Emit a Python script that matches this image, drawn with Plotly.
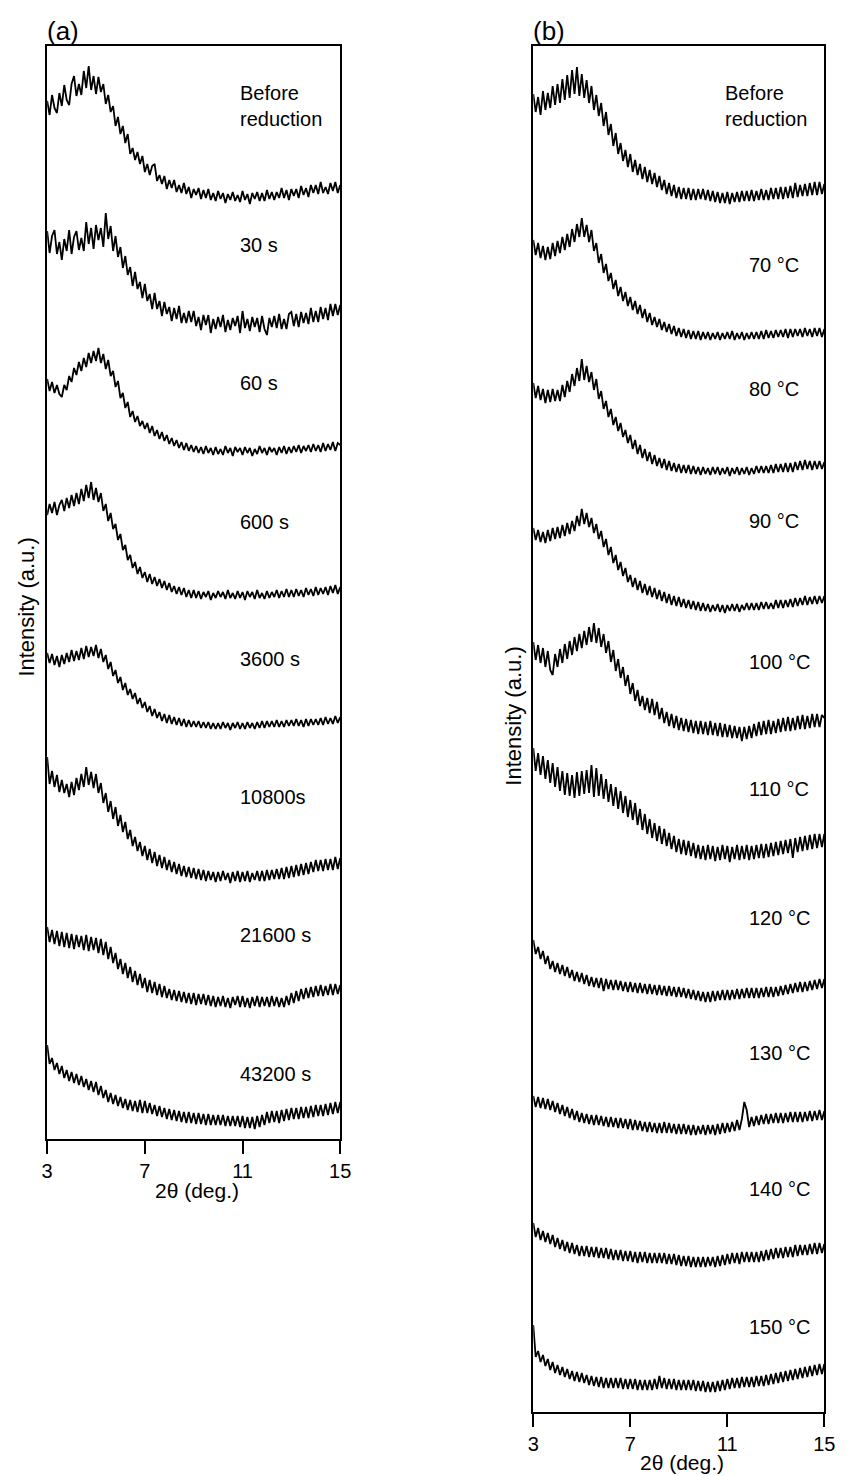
import numpy as np
import plotly.graph_objects as go

# 2-theta grid (deg.), 0.1 deg sampling
theta = np.round(np.arange(3.0, 15.0001, 0.1), 1)

# ---- Panel (a): reduction time series (intensity, a.u., relative to each trace's baseline)
labels_a = ["Before<br>reduction", "30 s", "60 s", "600 s", "3600 s", "10800s", "21600 s", "43200 s"]
offsets_a = [942, 815, 688, 544, 413, 262, 137, 17]
label_y_a = [1033, 894, 756, 617, 480, 342, 204, 65]

a_before = [96,82,102,89,84,104,91,112,97,92,
            113,121,101,113,102,126,109,131,107,121,
            103,120,105,113,93,102,85,91,71,80,
            63,71,54,63,43,49,37,45,33,41,
            25,33,22,31,33,16,22,13,21,8,
            17,9,17,5,12,4,14,3,10,-1,
            8,2,9,-2,7,-1,8,-3,4,-4,
            6,-2,4,-6,3,-3,5,-4,2,-5,
            6,-3,3,-7,4,-2,5,-4,4,-4,
            7,-2,5,-3,5,-1,9,-1,7,-3,
            8,1,8,-1,11,2,9,0,12,4,
            12,3,15,4,10,3,14,6,15,4,
            12]
a_30 = [93,71,88,94,70,82,64,85,73,94,
        70,87,93,74,86,73,102,80,96,75,
        99,84,96,77,111,85,98,73,88,67,
        77,56,68,49,57,38,52,35,42,26,
        40,23,30,15,31,15,23,8,22,10,
        17,3,16,5,18,1,11,1,13,2,
        13,-2,7,-6,9,-1,9,-9,5,-5,
        7,-3,9,-8,4,-6,6,-2,8,-9,
        13,-4,5,-7,7,-3,6,-8,8,-5,
        -11,6,-3,8,-4,10,-5,5,-5,10,
        12,-2,10,-3,12,1,11,0,16,2,
        13,2,17,5,16,4,20,8,20,9,
        19]
a_60 = [72,60,69,58,66,57,54,66,61,75,
        69,83,76,89,80,93,84,98,88,100,
        90,103,88,97,82,91,75,80,64,70,
        53,58,43,49,34,40,29,35,25,30,
        22,28,18,25,15,21,12,19,10,16,
        7,13,5,11,3,9,1,8,0,6,
        -1,5,-2,4,-3,5,-2,3,-4,4,
        -3,2,-4,5,-2,3,-5,4,-1,3,
        -4,4,-2,3,-5,2,-3,5,-2,3,
        -4,4,-1,3,-4,4,-2,5,-3,4,
        -2,5,-1,6,-2,5,0,6,-1,7,
        0,6,-1,8,0,7,1,9,0,8,
        6]
a_600 = [80,91,82,93,80,90,95,84,97,87,
         100,89,102,91,106,94,110,97,113,95,
         107,93,102,84,91,74,82,66,71,55,
         61,45,50,35,40,27,33,21,28,17,
         23,13,21,11,18,9,16,7,14,5,
         12,3,9,1,8,0,7,-2,5,-3,
         5,-3,4,-4,3,-2,4,-5,2,-3,
         4,-2,3,-4,5,-3,2,-4,4,-3,
         3,-5,4,-2,3,-4,5,-3,2,-4,
         4,-3,3,-2,5,-3,4,-2,6,-2,
         5,-2,6,-1,5,-2,7,0,6,-1,
         8,0,7,1,8,0,9,2,10,1,
         8]
a_3600 = [73,63,72,61,70,59,71,62,73,64,
          76,65,75,66,78,67,80,69,79,70,
          81,68,77,64,71,57,64,50,56,43,
          49,36,43,31,37,27,33,22,28,18,
          24,14,20,10,17,8,14,5,12,3,
          11,2,9,1,8,0,7,-1,6,-1,
          5,-1,5,-2,4,-2,4,-3,3,-3,
          3,-3,4,-2,3,-4,3,-2,4,-3,
          3,-3,4,-2,3,-3,4,-2,5,-2,
          5,-1,5,-1,6,-1,5,-1,6,0,
          6,0,7,0,6,-1,7,0,7,1,
          7,1,8,1,9,2,8,2,10,3,
          9]
a_10800 = [120,93,106,90,102,85,97,84,93,80,
           95,82,99,87,103,90,110,92,105,89,
           103,84,94,74,84,65,76,58,70,51,
           62,45,55,38,47,31,40,26,35,21,
           31,17,28,14,25,11,22,9,20,7,
           17,5,15,3,13,1,11,0,10,-1,
           9,-2,8,-3,7,-4,6,-3,5,-5,
           5,-4,6,-3,4,-6,5,-4,6,-5,
           5,-4,6,-5,4,-3,6,-4,6,-4,
           7,-3,7,-2,8,-2,9,-2,10,-1,
           11,0,12,1,13,2,14,3,15,5,
           17,6,17,6,18,7,18,7,20,8,
           19]
a_21600 = [75,60,72,58,71,56,70,55,69,54,
           68,53,67,55,66,52,67,51,65,52,
           64,49,63,47,60,43,55,39,49,33,
           43,28,39,24,35,20,31,17,28,14,
           24,10,22,9,20,7,18,5,16,4,
           13,2,12,1,11,0,10,-1,9,-2,
           9,-3,8,-2,8,-3,7,-4,6,-5,
           5,-4,6,-5,4,-6,5,-3,6,-5,
           6,-5,4,-6,5,-4,6,-5,5,-4,
           5,-5,6,-4,5,-5,4,-5,6,-3,
           9,-1,11,1,13,3,14,4,15,5,
           16,6,17,6,16,7,18,7,18,8,
           17]
a_43200 = [77,58,64,52,59,48,56,44,52,41,
           50,39,48,37,46,35,43,32,41,30,
           40,27,36,24,32,20,29,18,27,16,
           25,14,23,12,22,11,21,10,22,9,
           21,9,19,8,17,6,16,5,14,3,
           13,2,12,1,11,0,10,-1,10,-1,
           9,-2,9,-2,8,-3,8,-3,7,-3,
           7,-3,7,-4,6,-4,6,-4,6,-5,
           6,-6,5,-6,5,-7,6,-5,7,-3,
           10,-1,11,0,11,-1,12,1,13,2,
           14,3,14,3,15,4,15,4,16,5,
           17,6,17,6,18,7,19,8,20,9,
           20]
series_a = [a_before, a_30, a_60, a_600, a_3600, a_10800, a_21600, a_43200]

# ---- Panel (b): reduction temperature series
labels_b = ["Before<br>reduction", "70 °C", "80 °C", "90 °C", "100 °C", "110 °C",
            "120 °C", "130 °C", "140 °C", "150 °C"]
offsets_b = [1214, 1076, 941, 804, 679, 559, 415, 282, 150, 25]
label_y_b = [1306, 1147, 1023, 891, 750, 623, 494, 359, 223, 85]

b_before = [104,86,101,83,107,88,105,90,112,93,
            114,95,119,98,123,100,128,104,131,102,
            124,100,118,95,112,88,103,82,95,72,
            86,63,74,52,65,44,55,37,48,31,
            44,26,38,23,34,19,31,16,28,14,
            25,11,22,8,18,4,15,2,13,0,
            11,-1,10,-1,10,-2,9,-2,9,-1,
            9,-2,8,-3,7,-4,6,-5,5,-5,
            6,-6,5,-4,6,-4,7,-3,7,-3,
            8,-3,7,-2,9,-2,8,-2,10,-1,
            10,-1,11,-1,11,0,12,0,15,1,
            13,2,14,2,15,3,16,3,16,4,
            14]
b_70 = [96,81,93,78,90,76,89,77,93,80,
        95,83,99,86,102,89,107,94,112,99,
        118,99,111,94,106,85,93,73,82,63,
        72,55,63,47,56,40,49,35,44,30,
        39,26,35,22,31,18,27,14,23,11,
        19,9,17,6,14,4,12,2,10,0,
        8,-1,7,-2,6,-3,5,-3,5,-4,
        4,-3,4,-4,3,-3,4,-4,3,-3,
        4,-3,5,-4,3,-3,4,-4,3,-3,
        4,-3,4,-3,5,-3,6,-2,5,-2,
        6,-1,6,-1,7,-2,7,-1,7,0,
        7,-1,8,0,7,-1,8,0,8,-1,
        7]
b_80 = [88,73,85,71,82,68,81,69,82,70,
        81,70,86,74,90,79,97,85,103,90,
        112,91,105,89,99,81,92,72,80,62,
        70,54,62,46,54,40,48,34,41,28,
        36,22,31,17,26,13,22,10,19,7,
        16,5,13,3,12,1,10,0,8,-1,
        7,-2,6,-2,6,-3,5,-3,4,-4,
        4,-3,3,-4,4,-3,4,-4,3,-3,
        4,-5,3,-3,4,-4,3,-3,4,-4,
        3,-3,5,-2,5,-2,5,-2,6,-2,
        7,-1,7,-1,8,-1,8,-1,9,1,
        10,1,11,2,10,1,10,2,10,2,
        9]
b_90 = [80,68,78,66,76,65,78,67,80,69,
        81,70,83,72,85,74,87,77,92,82,
        99,84,95,81,90,75,84,69,77,61,
        69,53,61,45,53,38,46,32,40,26,
        33,21,30,18,27,15,24,13,22,11,
        20,9,18,7,16,5,14,3,12,2,
        11,1,9,0,8,-1,7,-2,6,-3,
        5,-3,4,-4,3,-3,4,-4,3,-5,
        3,-3,4,-3,4,-4,3,-2,5,-2,
        5,-2,5,-2,6,-1,6,-1,5,-1,
        8,0,8,0,8,1,9,1,10,2,
        10,3,12,3,11,4,12,4,12,5,
        12]
b_100 = [91,73,88,70,85,66,82,63,58,79,
         66,84,70,89,74,92,78,96,82,99,
         85,102,88,106,91,110,90,105,86,99,
         80,92,71,83,62,74,55,66,47,58,
         39,50,32,43,27,37,23,35,20,34,
         18,31,14,25,10,21,7,19,5,17,
         3,15,2,14,1,13,0,12,-1,12,
         -1,11,-2,12,-2,10,-3,10,-4,9,
         -4,8,-5,7,-5,6,-8,6,-6,7,
         -5,9,-3,11,-2,12,-1,13,-1,12,
         0,14,1,15,2,16,2,15,3,17,
         4,18,4,17,5,19,6,19,6,18,
         15]
b_110 = [105,82,100,78,97,74,93,70,90,66,
         86,62,82,58,80,57,78,55,81,57,
         82,59,83,60,88,56,85,57,79,54,
         74,51,69,47,66,44,62,40,57,36,
         53,33,50,28,44,23,39,19,34,15,
         30,12,27,9,24,7,20,4,17,1,
         14,-1,13,-2,12,-3,10,-5,8,-6,
         7,-7,8,-6,7,-8,6,-7,8,-6,
         7,-9,6,-6,8,-7,7,-6,8,-7,
         7,-6,8,-5,9,-5,9,-4,10,-3,
         11,-2,12,-1,13,0,14,-5,15,1,
         16,2,17,3,18,4,19,5,19,6,
         19]
b_120 = [57,43,50,38,46,33,41,28,36,25,
         34,23,32,21,30,19,27,16,25,15,
         24,13,22,11,20,10,19,9,19,6,
         18,8,17,7,17,7,16,6,15,5,
         15,5,14,4,14,4,13,3,13,3,
         12,2,12,2,11,1,11,1,10,0,
         10,0,9,-1,8,-2,7,-3,6,-4,
         5,-5,5,-5,6,-4,6,-3,7,-3,
         7,-3,7,-2,8,-2,8,-1,9,-1,
         9,-1,9,-1,9,0,10,0,10,0,
         10,1,11,2,12,3,13,4,14,5,
         15,5,15,6,16,7,17,8,18,9,
         18]
b_130 = [34,23,33,22,32,21,31,20,29,18,
         27,16,25,14,23,12,21,10,19,8,
         17,7,16,6,15,5,15,5,14,4,
         13,3,13,3,12,2,12,2,11,1,
         11,0,10,0,9,-1,8,-2,8,-2,
         7,-3,7,-3,8,-3,7,-3,6,-4,
         6,-4,6,-4,5,-5,5,-5,4,-4,
         5,-5,5,-4,5,-5,6,-4,7,-3,
         7,-2,8,-1,10,0,11,28,20,3,
         13,4,14,5,15,6,16,6,16,7,
         17,7,17,7,17,8,18,8,18,8,
         18,8,18,9,19,9,19,10,20,10,
         19]
b_140 = [39,25,34,22,31,20,29,18,27,15,
         24,13,22,11,20,9,19,8,17,6,
         16,6,16,5,15,5,15,4,14,4,
         14,3,13,2,12,2,12,1,11,1,
         11,0,10,-1,10,0,10,-1,9,-1,
         9,-1,9,-1,9,-2,8,-2,8,-3,
         7,-4,6,-4,6,-5,5,-5,5,-5,
         5,-5,5,-4,5,-5,6,-4,7,-3,
         8,-2,9,-1,9,-2,10,0,10,0,
         10,0,10,0,11,1,12,2,13,3,
         14,4,14,4,15,5,15,5,17,6,
         17,7,17,7,18,8,19,8,19,9,
         18]
b_150 = [62,30,36,25,32,21,28,17,25,14,
         22,12,20,10,18,8,16,6,15,5,
         14,4,12,2,11,1,10,0,10,-1,
         9,-1,9,-1,9,-1,9,-2,8,-2,
         8,-2,8,-3,7,-3,7,-3,7,-3,
         8,-2,11,-1,9,-2,8,-2,8,-3,
         7,-3,7,-3,7,-3,7,-4,6,-4,
         6,-5,5,-5,5,-5,6,-4,7,-3,
         8,-2,9,-1,9,-1,10,0,10,0,
         10,0,11,1,11,1,12,2,13,3,
         14,4,15,5,16,6,17,7,18,8,
         19,9,20,10,21,11,22,12,23,13,
         23]
series_b = [b_before, b_70, b_80, b_90, b_100, b_110, b_120, b_130, b_140, b_150]

for s in series_a + series_b:
    assert len(s) == len(theta), len(s)

tick_vals = [3, 7, 11, 15]

W, H = 852, 1476
FONT = "Liberation Sans, Arial, sans-serif"
LINE = dict(color="black", width=1.8)

fig = go.Figure()
for vals, off in zip(series_a, offsets_a):
    fig.add_trace(go.Scatter(x=theta, y=np.array(vals) + off, mode="lines",
                             line=LINE, xaxis="x", yaxis="y", showlegend=False,
                             hoverinfo="skip"))
for vals, off in zip(series_b, offsets_b):
    fig.add_trace(go.Scatter(x=theta, y=np.array(vals) + off, mode="lines",
                             line=LINE, xaxis="x2", yaxis="y2", showlegend=False,
                             hoverinfo="skip"))

def px_x(p):
    return p / W

def px_y(p):
    return 1 - p / H

xcommon = dict(range=[3, 15], tickvals=tick_vals, ticks="outside", ticklen=13, tickwidth=1.5,
               tickcolor="black", showline=True, linecolor="black", linewidth=1.5,
               mirror=True, showgrid=False, zeroline=False,
               tickfont=dict(family=FONT, size=20, color="black"))
ycommon = dict(showline=True, linecolor="black", linewidth=1.5, mirror=True,
               showgrid=False, zeroline=False, showticklabels=False, ticks="")

fig.update_layout(
    width=W, height=H, margin=dict(l=0, r=0, t=0, b=0),
    paper_bgcolor="white", plot_bgcolor="white",
    xaxis=dict(domain=[px_x(42), px_x(341)], anchor="y", **xcommon),
    yaxis=dict(domain=[px_y(1139), px_y(46)], range=[0, 1093], anchor="x", **ycommon),
    xaxis2=dict(domain=[px_x(538), px_x(835)], anchor="y2", **xcommon),
    yaxis2=dict(domain=[px_y(1412), px_y(46)], range=[0, 1366], anchor="x2", **ycommon),
)

ann = []
for lab, yv in zip(labels_a, label_y_a):
    ann.append(dict(x=10.83, y=yv, xref="x", yref="y", text=lab, showarrow=False,
                    xanchor="left", yanchor="middle", align="left",
                    font=dict(family=FONT, size=20, color="black")))
for i, (lab, yv) in enumerate(zip(labels_b, label_y_b)):
    ann.append(dict(x=10.84 if i == 0 else 11.81, y=yv, xref="x2", yref="y2", text=lab,
                    showarrow=False, xanchor="left", yanchor="middle", align="left",
                    font=dict(family=FONT, size=20, color="black")))

ann += [
    dict(x=px_x(40), y=px_y(31), xref="paper", yref="paper", text="(a)", showarrow=False,
         xanchor="left", yanchor="middle", font=dict(family=FONT, size=26, color="black")),
    dict(x=px_x(536), y=px_y(31), xref="paper", yref="paper", text="(b)", showarrow=False,
         xanchor="left", yanchor="middle", font=dict(family=FONT, size=26, color="black")),
    dict(x=px_x(195), y=px_y(1190), xref="paper", yref="paper", text="2θ (deg.)", showarrow=False,
         xanchor="center", yanchor="middle", font=dict(family=FONT, size=21, color="black")),
    dict(x=px_x(690), y=px_y(1462), xref="paper", yref="paper", text="2θ (deg.)", showarrow=False,
         xanchor="center", yanchor="middle", font=dict(family=FONT, size=21, color="black")),
    dict(x=px_x(20), y=px_y(607), xref="paper", yref="paper", text="Intensity (a.u.)",
         showarrow=False, textangle=-90, xanchor="center", yanchor="middle",
         font=dict(family=FONT, size=22, color="black")),
    dict(x=px_x(517), y=px_y(716), xref="paper", yref="paper", text="Intensity (a.u.)",
         showarrow=False, textangle=-90, xanchor="center", yanchor="middle",
         font=dict(family=FONT, size=22, color="black")),
]
fig.update_layout(annotations=ann)

fig.write_html("out.html",
               config={"displayModeBar": False},
               post_script="document.body.style.margin='0';"
                           "document.documentElement.style.overflow='hidden';")
